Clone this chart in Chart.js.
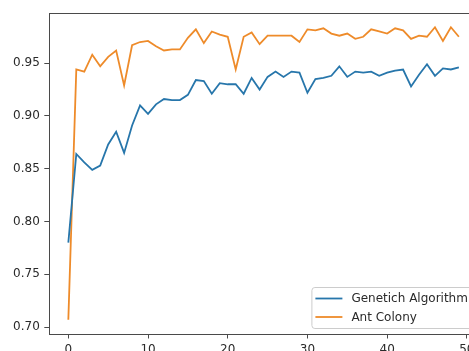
<!DOCTYPE html>
<html>
<head>
<meta charset="utf-8">
<script src="https://cdn.jsdelivr.net/npm/chart.js@4/dist/chart.umd.min.js"></script>
<style>
    html, body { margin: 0; padding: 0; width: 469px; height: 351px; overflow: hidden; background: #fff; }
    #wrap { width: 500px; height: 380px; }
</style>
</head>
<body>
<div id="wrap"><canvas id="chart" width="500" height="380"></canvas></div>
<script>
// data
const generations = Array.from({ length: 50 }, (_, i) => i);

const gaValues = [
    0.780, 0.864, 0.856, 0.849, 0.853, 0.873, 0.885, 0.865, 0.891, 0.910,
    0.902, 0.911, 0.916, 0.915, 0.915, 0.920, 0.934, 0.933, 0.921, 0.931,
    0.930, 0.930, 0.921, 0.936, 0.925, 0.937, 0.942, 0.937, 0.942, 0.941,
    0.922, 0.935, 0.936, 0.938, 0.947, 0.937, 0.942, 0.941, 0.942, 0.938,
    0.941, 0.943, 0.944, 0.928, 0.939, 0.949, 0.938, 0.945, 0.944, 0.946
];

const acValues = [
    0.707, 0.944, 0.942, 0.958, 0.947, 0.956, 0.962, 0.929, 0.967, 0.970,
    0.971, 0.966, 0.962, 0.963, 0.963, 0.974, 0.982, 0.969, 0.980, 0.977,
    0.975, 0.944, 0.975, 0.979, 0.968, 0.976, 0.976, 0.976, 0.976, 0.970,
    0.982, 0.981, 0.983, 0.978, 0.976, 0.978, 0.973, 0.975, 0.982, 0.980,
    0.978, 0.983, 0.981, 0.973, 0.976, 0.975, 0.984, 0.971, 0.984, 0.975
];

const seriesNames = ['Genetich Algorithm', 'Ant Colony'];
const xTicks = [0, 10, 20, 30, 40, 50];
const yTicks = [0.70, 0.75, 0.80, 0.85, 0.90, 0.95];

const FONT = 'DejaVu Sans';
const AXIS_COLOR = '#4a4a4a';

function toPoints(values) {
    return values.map((v, i) => ({ x: generations[i], y: v }));
}

// full box round the plot, like matplotlib spines
const framePlugin = {
    id: 'frame',
    afterDatasetsDraw(chart) {
        const { ctx, chartArea: a } = chart;
        ctx.save();
        ctx.strokeStyle = AXIS_COLOR;
        ctx.lineWidth = 1;
        ctx.strokeRect(Math.round(a.left) + 0.5, Math.round(a.top) + 0.5,
            Math.round(a.right - a.left), Math.round(a.bottom - a.top));
        ctx.restore();
    }
};

// legend box inside the plot, lower right
const legendPlugin = {
    id: 'innerLegend',
    afterDraw(chart) {
        const { ctx, chartArea: a } = chart;
        const w = 161, h = 41;
        const right = a.right - 6, bottom = a.bottom - 6;
        const left = right - w, top = bottom - h;
        ctx.save();
        ctx.beginPath();
        ctx.roundRect(left + 0.5, top + 0.5, w, h, 3);
        ctx.fillStyle = 'rgba(255,255,255,0.8)';
        ctx.fill();
        ctx.strokeStyle = '#cccccc';
        ctx.lineWidth = 1;
        ctx.stroke();

        ctx.font = '12px "' + FONT + '"';
        ctx.textBaseline = 'middle';
        chart.data.datasets.forEach((ds, i) => {
            const y = top + 11.5 + i * 18.5;
            ctx.beginPath();
            ctx.moveTo(left + 4, y);
            ctx.lineTo(left + 31, y);
            ctx.strokeStyle = ds.borderColor;
            ctx.lineWidth = 1.8;
            ctx.stroke();
            ctx.fillStyle = '#2a2a2a';
            ctx.fillText(ds.label, left + 40, y + 0.5);
        });
        ctx.restore();
    }
};

const tickStyle = {
    color: '#2a2a2a',
    font: { family: FONT, size: 12 },
    padding: 4.5
};

const gridStyle = {
    display: true,
    drawOnChartArea: false,
    drawTicks: true,
    tickLength: 4.5,
    tickColor: AXIS_COLOR,
    tickWidth: 1
};

new Chart(document.getElementById('chart'), {
    type: 'line',
    data: {
        datasets: [{
            label: seriesNames[0],
            data: toPoints(gaValues),
            borderColor: '#2776ab',
            borderWidth: 1.8,
            pointRadius: 0,
            tension: 0,
            fill: false
        }, {
            label: seriesNames[1],
            data: toPoints(acValues),
            borderColor: '#ee8b2a',
            borderWidth: 1.8,
            pointRadius: 0,
            tension: 0,
            fill: false
        }]
    },
    options: {
        responsive: false,
        animation: false,
        layout: { padding: { top: 13, right: 21.6, left: 0, bottom: 0 } },
        plugins: {
            legend: { display: false },
            tooltip: { enabled: false }
        },
        scales: {
            x: {
                type: 'linear',
                min: -2.45,
                max: 51.45,
                afterBuildTicks: s => { s.ticks = xTicks.map(v => ({ value: v })); },
                afterFit: s => { s.height = 46; },
                ticks: { ...tickStyle, maxRotation: 0, callback: v => String(v) },
                grid: gridStyle,
                border: { display: false }
            },
            y: {
                type: 'linear',
                min: 0.6935,
                max: 0.9975,
                afterBuildTicks: s => { s.ticks = yTicks.map(v => ({ value: v })); },
                afterFit: s => { s.width = 48.8; },
                ticks: { ...tickStyle, callback: v => v.toFixed(2) },
                grid: gridStyle,
                border: { display: false }
            }
        }
    },
    plugins: [framePlugin, legendPlugin]
});
</script>
</body>
</html>
